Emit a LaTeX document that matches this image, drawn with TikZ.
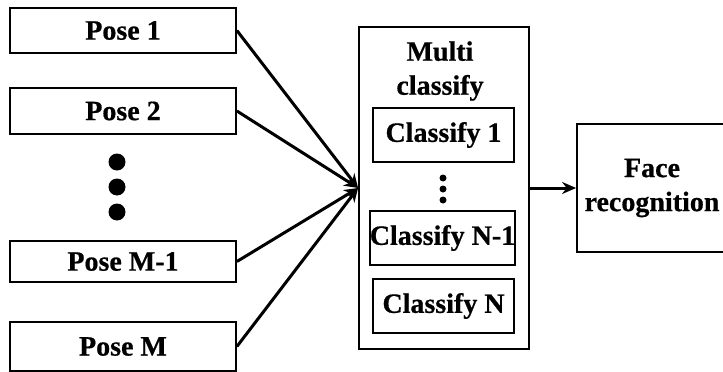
\documentclass[tikz,border=0pt]{standalone}
\usepackage{fontspec}
\setmainfont{Liberation Serif}[BoldFeatures={FakeBold=0.6}]
\usetikzlibrary{arrows.meta}
\begin{document}
\begin{tikzpicture}[x=1pt,y=-1pt,
  box/.style={draw,line width=1.8pt,inner sep=0pt,align=center,
    font=\fontsize{28}{34}\selectfont\bfseries},
  posebox/.style={box,minimum width=226pt},
  clsbox/.style={box,minimum width=141pt,minimum height=54pt},
  bigdot/.style={circle,fill,inner sep=0pt,minimum size=17pt},
  smalldot/.style={circle,fill,inner sep=0pt,minimum size=7pt},
  conn/.style={line width=3pt,-{Stealth[length=14pt,width=12pt]}},
  lbl/.style={align=center,inner sep=0pt,font=\fontsize{28}{34}\selectfont\bfseries}]
\useasboundingbox (0,0) rectangle (723,372);
\clip (0,0) rectangle (723,372);
\node[posebox,minimum height=45pt] (p1) at (123,30.5) {Pose 1};
\node[posebox,minimum height=46pt] (p2) at (123,111) {Pose 2};
\node[posebox,minimum height=41pt] (pm1) at (123,261.5) {Pose M-1};
\node[posebox,minimum height=49pt] (pm) at (123,346.5) {Pose M};
\node[bigdot] (d1) at (117,162) {};
\node[bigdot] (d2) at (117,187) {};
\node[bigdot] (d3) at (117,212) {};
\node[box,minimum width=170pt,minimum height=322pt] (multi) at (444,188) {};
\node[lbl] (mlabel) at (440,71) {Multi\\classify};
\node[clsbox] (c1) at (443.5,135) {Classify 1};
\node[smalldot] (s1) at (443,178) {};
\node[smalldot] (s2) at (443,189) {};
\node[smalldot] (s3) at (443,200) {};
\node[clsbox] (cn1) at (442.5,238) {Classify N-1};
\node[clsbox] (cn) at (443.5,306) {Classify N};
\node[box,minimum width=150pt,minimum height=128pt] (face) at (652,188) {Face\\recognition};
\draw[conn] (p1.east) -- (multi.west);
\draw[conn] (p2.east) -- (multi.west);
\draw[conn] (pm1.east) -- (multi.west);
\draw[conn] (pm.east) -- (multi.west);
\draw[conn] (multi.east) -- (face.west);
\end{tikzpicture}
\end{document}
